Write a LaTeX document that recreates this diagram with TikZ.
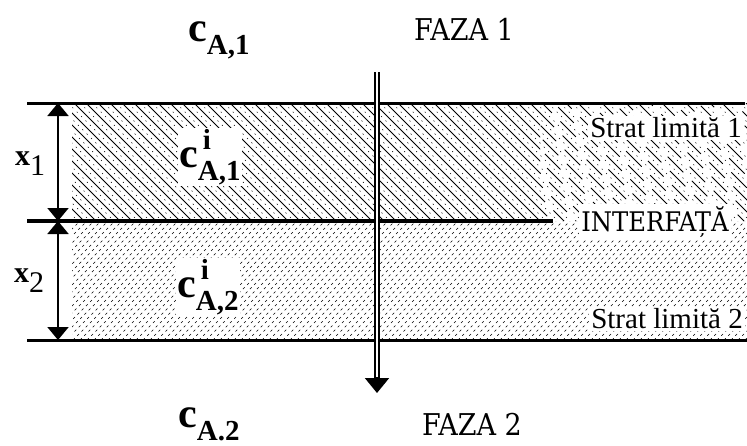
\documentclass[tikz,border=0pt]{standalone}
\usepackage{fontspec}
\setmainfont{Liberation Serif}
\newfontfamily\slabfont{DejaVu Serif Condensed}
\usepackage{tikz}
\usetikzlibrary{arrows.meta}

% concentration labels
\newcommand{\cbulk}[1]{c\raisebox{-13pt}{\fontsize{29}{29}\selectfont #1}}
\newcommand{\cinterf}[1]{c\raisebox{18pt}{\rlap{\fontsize{29}{29}\selectfont\,i}}\raisebox{-13pt}{\fontsize{29}{29}\selectfont #1}}

\begin{document}
\begin{tikzpicture}[x=1pt, y=-1pt,
  boundary/.style={line width=3pt},
  dimline/.style={line width=2pt,
    {Triangle[width=21pt,length=13pt]}-{Triangle[width=21pt,length=13pt]}},
  hatchsolid/.style={line width=1pt},
  hatchdash/.style={line width=0.8pt, dash pattern=on 22pt off 12pt},
  hatchdot/.style={line width=0.6pt, dash pattern=on 1.2pt off 5pt},
  hatchlow/.style={line width=0.6pt, dash pattern=on 2.5pt off 3.5pt},
  conc/.style={font=\bfseries\fontsize{42}{44}\selectfont, inner sep=0pt},
  phase/.style={font=\slabfont\fontsize{30}{32}\selectfont, inner sep=1pt},
  layer/.style={font=\fontsize{29}{31}\selectfont, fill=white, inner sep=2pt},
  thick/.style={font=\fontsize{30}{32}\selectfont, inner sep=1pt}]
  \useasboundingbox (0,0) rectangle (747,445);

  % boundary layer 1
  \begin{scope}
    \clip (72,103) rectangle (540,221);
    \foreach \s in {-130,-118,...,540} {
      \draw[hatchsolid] (\s,103) -- ++(118,118);
      \draw[hatchdot] (\s+6,103) -- ++(118,118);
    }
  \end{scope}
  \begin{scope}
    \clip (540,103) rectangle (747,221);
    \foreach \s [evaluate=\s as \ph using {mod(\s*13,34)}] in {410,422,...,760} {
      \draw[hatchdash, dash phase=\ph pt] (\s,103) -- ++(118,118);
      \draw[hatchdot] (\s+6,103) -- ++(118,118);
    }
  \end{scope}

  % boundary layer 2
  \begin{scope}
    \clip (72,221) rectangle (747,340);
    \foreach \s in {-60,-53,...,760} {
      \draw[hatchlow] (\s,340) -- ++(119,-119);
    }
  \end{scope}

  % boundaries
  \coordinate (topL) at (27,103);   \coordinate (topR) at (745,103);
  \coordinate (midL) at (27,221);   \coordinate (midR) at (553,221);
  \coordinate (botL) at (27,340);   \coordinate (botR) at (747,340);
  \draw[boundary] (topL) -- (topR);
  \draw[boundary, line width=3.5pt] (midL) -- (midR);
  \draw[boundary] (botL) -- (botR);

  % layer thicknesses
  \coordinate (d0) at (58,103);
  \coordinate (d1) at (58,221);
  \coordinate (d2) at (58,340);
  \draw[dimline] (d0) -- (d1);
  \draw[dimline] (d1) -- (d2);
  \node[thick] (x1) at (30,164) {\bfseries x\raisebox{-10pt}{\mdseries 1}};
  \node[thick] (x2) at (29,281) {\bfseries x\raisebox{-10pt}{\mdseries 2}};

  % transfer direction
  \coordinate (flowin) at (377,72);
  \coordinate (flowout) at (377,393);
  \draw[line width=2.4pt, double distance=1.4pt, shorten >=14pt] (flowin) -- (flowout);
  \draw[line width=2pt, -{Triangle[width=24pt,length=15pt]}] ([yshift=16pt]flowout) -- (flowout);

  % labels
  \node[conc] (cA1) at (219,40) {\cbulk{A,1}};
  \node[conc] (cA2) at (209,424) {\cbulk{A.2}};
  \node[conc, fill=white, inner sep=1pt] (ciA1) at (210,157) {\cinterf{A,1}};
  \node[conc, fill=white, inner sep=1pt] (ciA2) at (208,287) {\cinterf{A,2}};
  \node[phase] (faza1) at (464,29) {FAZA 1};
  \node[phase] (faza2) at (472,424) {FAZA 2};
  \node[layer] (strat1) at (666,128) {Strat limită 1};
  \node[layer] (strat2) at (667,319) {Strat limită 2};
  \node[phase, fill=white, inner sep=2pt, font=\slabfont\fontsize{27}{29}\selectfont] (interf) at (655,222) {INTERFAȚĂ};
\end{tikzpicture}
\end{document}
